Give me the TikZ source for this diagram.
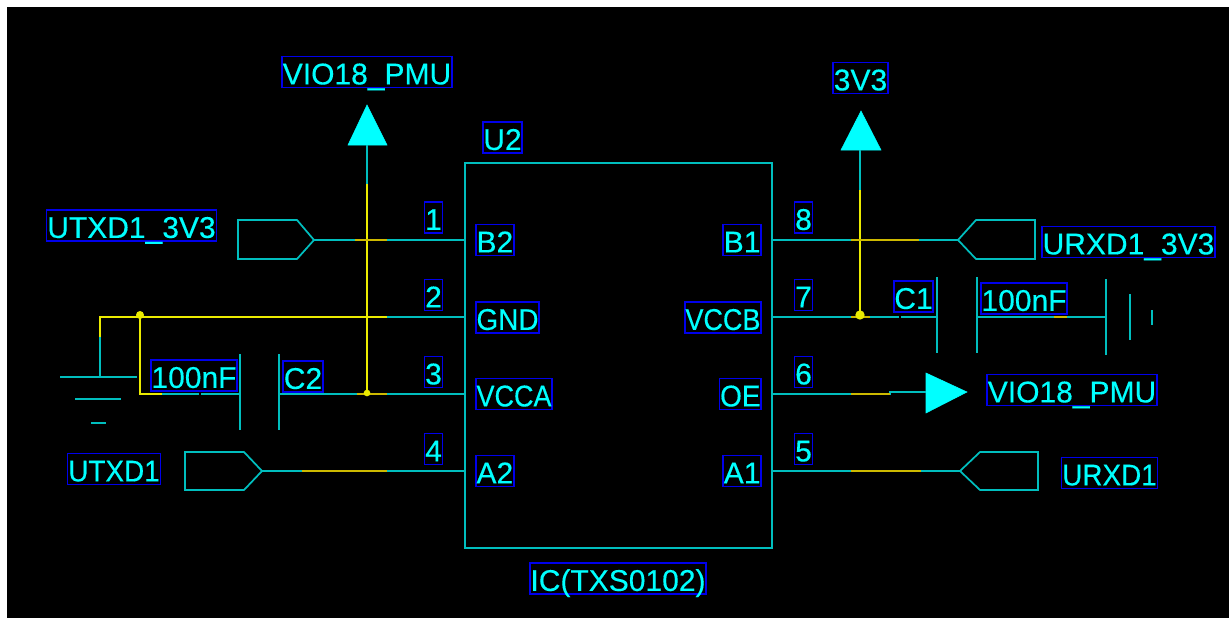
\documentclass[tikz,border=0pt]{standalone}
\usepackage{fontspec}
\setmainfont{Liberation Sans}
\newfontfamily\lblfont[FakeBold=0.3]{Liberation Sans}
\newfontfamily\narrowfont[FakeBold=0.3,FakeStretch=0.93]{Liberation Sans}
\newfontfamily\vccfont[FakeBold=0.3,FakeStretch=0.9]{Liberation Sans}
\definecolor{wirecyan}{RGB}{0,190,190}
\definecolor{textcyan}{RGB}{0,255,255}
\definecolor{wireyellow}{RGB}{235,235,0}
\definecolor{stubyellow}{RGB}{205,185,0}
\definecolor{boxblue}{RGB}{0,0,235}
\tikzset{
    lbl/.style={draw=boxblue, line width=1.3pt, text=textcyan, inner xsep=0.5pt, inner ysep=0pt,
        font=\lblfont\fontsize{22.5pt}{24pt}\selectfont, text height=21pt, text depth=2.4pt},
    nrw/.style={lbl, font=\narrowfont\fontsize{22.5pt}{24pt}\selectfont},
    vcc/.style={lbl, font=\vccfont\fontsize{22.5pt}{24pt}\selectfont},
    wire/.style={wirecyan, line width=1.3pt},
    ywire/.style={wireyellow, line width=1.3pt},
    ystub/.style={stubyellow, line width=1.5pt},
    junction/.style={circle, fill=wireyellow, inner sep=0pt, minimum size=6pt},
    icbox/.style={draw=wirecyan, line width=1.3pt, minimum width=230.25pt, minimum height=288.75pt}
}
\begin{document}
\begin{tikzpicture}[x=0.75pt, y=-0.75pt]
    \useasboundingbox (0,0) rectangle (1229,618);
    \fill[white] (0,0) rectangle (1229,618);
    \fill[black] (7,7) rectangle (1229,618);

    % ic and pins
    \node[icbox] (ic) at (618.5,355.5) {};
    \coordinate (pinB2) at (465,240);
    \coordinate (pinGND) at (465,317);
    \coordinate (pinVCCA) at (465,394);
    \coordinate (pinA2) at (465,471);
    \coordinate (pinB1) at (772,240);
    \coordinate (pinVCCB) at (772,317);
    \coordinate (pinOE) at (772,394);
    \coordinate (pinA1) at (772,471);

    % ports
    \coordinate (tipTX3) at (314,240);
    \coordinate (tipTX) at (262,471);
    \coordinate (tipRX3) at (958,240);
    \coordinate (tipRX) at (960,471);
    \draw[wire] (tipTX3) -- (297,220) -- (238,220) -- (238,259) -- (297,259) -- cycle;
    \draw[wire] (tipTX) -- (244,452) -- (185,452) -- (185,490) -- (244,490) -- cycle;
    \draw[wire] (tipRX3) -- (976,220) -- (1035,220) -- (1035,259) -- (976,259) -- cycle;
    \draw[wire] (tipRX) -- (980,452) -- (1038,452) -- (1038,490) -- (980,490) -- cycle;

    % power flags
    \coordinate (flagL) at (367,145);
    \coordinate (flagR) at (860,150);
    \coordinate (flagOE) at (926,392);
    \filldraw[textcyan] (348,145) -- (367,105) -- (387,145) -- cycle;
    \filldraw[textcyan] (841,150) -- (861,111) -- (881,150) -- cycle;
    \filldraw[textcyan] (926,373) -- (967,392) -- (926,413) -- cycle;

    % caps and ground
    \coordinate (capLa) at (240,394);
    \coordinate (capLb) at (279,394);
    \coordinate (capRa) at (937,317);
    \coordinate (capRb) at (977,317);
    \draw[wire] (240,354) -- (240,430);
    \draw[wire] (279,354) -- (279,430);
    \draw[wire] (937,277) -- (937,353);
    \draw[wire] (977,277) -- (977,353);
    \coordinate (gndL) at (100,377);
    \coordinate (gndR) at (1106,317);
    \draw[wire] (60,377) -- (137,377);
    \draw[wire] (75,399) -- (121,399);
    \draw[wire] (91,423) -- (106,423);
    \draw[wire] (1106,279) -- (1106,355);
    \draw[wire] (1130,294) -- (1130,340);
    \draw[wire] (1152,310) -- (1152,325);

    % junctions
    \coordinate (dotGND) at (140,315);
    \coordinate (dotVCCA) at (367,393);
    \coordinate (dotVCCB) at (860,315);

    % cyan wires
    \draw[wire] (tipTX3) -- (pinB2);
    \draw[wire] (tipTX) -- (pinA2);
    \draw[wire] (capLb) -- (pinVCCA);
    \draw[wire] (capLa) -- (162,394);
    \draw[wire] (387,317) -- (pinGND);
    \draw[wire] (gndL) -- (100,337);
    \draw[wire] (dotVCCA) -- (flagL);
    \draw[wire] (860,190) -- (flagR);
    \draw[wire] (pinB1) -- (tipRX3);
    \draw[wire] (pinA1) -- (tipRX);
    \draw[wire] (pinVCCB) -- (capRa);
    \draw[wire] (capRb) -- (gndR);
    \draw[wire] (pinOE) -- (890,394) -- (890,392) -- (flagOE);

    % yellow wires
    \draw[ywire] (367,184) -- (dotVCCA);
    \draw[ywire] (100,337) -- (100,317) -- (387,317);
    \draw[ywire] (dotGND) -- (140,394) -- (162,394);
    \draw[ywire] (860,190) -- (dotVCCB);
    \draw[ystub] (355,240) -- (387,240);
    \draw[ystub] (357,394) -- (387,394);
    \draw[ystub] (302,471) -- (387,471);
    \draw[ystub] (851,240) -- (919,240);
    \draw[ystub] (851,317) -- (870,317);
    \draw[ystub] (851,394) -- (890,394);
    \draw[ystub] (851,471) -- (921,471);
    \draw[ystub] (1054,317) -- (1067,317);

    \node[junction] at (dotGND) {};
    \node[junction, minimum size=5pt] at (dotVCCA) {};
    \node[junction, minimum size=7pt] at (dotVCCB) {};

    % small breaks in the wires
    \draw[black, line width=1.5pt] (200,393) -- (200,395);
    \draw[black, line width=1.5pt] (900,316) -- (900,318);

    % labels
    \node[lbl] (lblVioL) at (367,72) {VIO18\_PMU};
    \node[lbl] (lblU2) at (502.5,137.5) {U2};
    \node[lbl] (lbl3V3) at (860.5,78) {3V3};
    \node[lbl] (lblTX3) at (131.5,225.5) {UTXD1\_3V3};
    \node[lbl] (lblCapL) at (194,375.5) {100nF};
    \node[lbl] (lblC2) at (303,376.5) {C2};
    \node[nrw] (lblTX) at (114,469) {UTXD1};
    \node[lbl] (lblC1) at (913.5,296.5) {C1};
    \node[lbl] (lblCapR) at (1024,298.5) {100nF};
    \node[lbl] (lblRX3) at (1128.5,242) {URXD1\_3V3};
    \node[lbl] (lblVioR) at (1072,390) {VIO18\_PMU};
    \node[nrw] (lblRX) at (1109.5,473) {URXD1};
    \node[lbl] (lblIC) at (618,578.5) {IC(TXS0102)};

    \node[lbl] (num1) at (433.5,217.5) {1};
    \node[lbl] (num2) at (433.5,295) {2};
    \node[lbl] (num3) at (433.5,372) {3};
    \node[lbl] (num4) at (433.5,449) {4};
    \node[lbl] (num8) at (803.5,217.5) {8};
    \node[lbl] (num7) at (803.5,295) {7};
    \node[lbl] (num6) at (803.5,372) {6};
    \node[lbl] (num5) at (803.5,449) {5};

    \node[lbl, anchor=west] (nameB2) at (475,240) {B2};
    \node[nrw, anchor=west] (nameGND) at (475,317.5) {GND};
    \node[vcc, anchor=west] (nameVCCA) at (475,394) {VCCA};
    \node[lbl, anchor=west] (nameA2) at (475,471) {A2};
    \node[lbl, anchor=east] (nameB1) at (762,240) {B1};
    \node[vcc, anchor=east] (nameVCCB) at (762,317.5) {VCCB};
    \node[nrw, anchor=east] (nameOE) at (762,394) {OE};
    \node[lbl, anchor=east] (nameA1) at (762,471) {A1};
\end{tikzpicture}
\end{document}
